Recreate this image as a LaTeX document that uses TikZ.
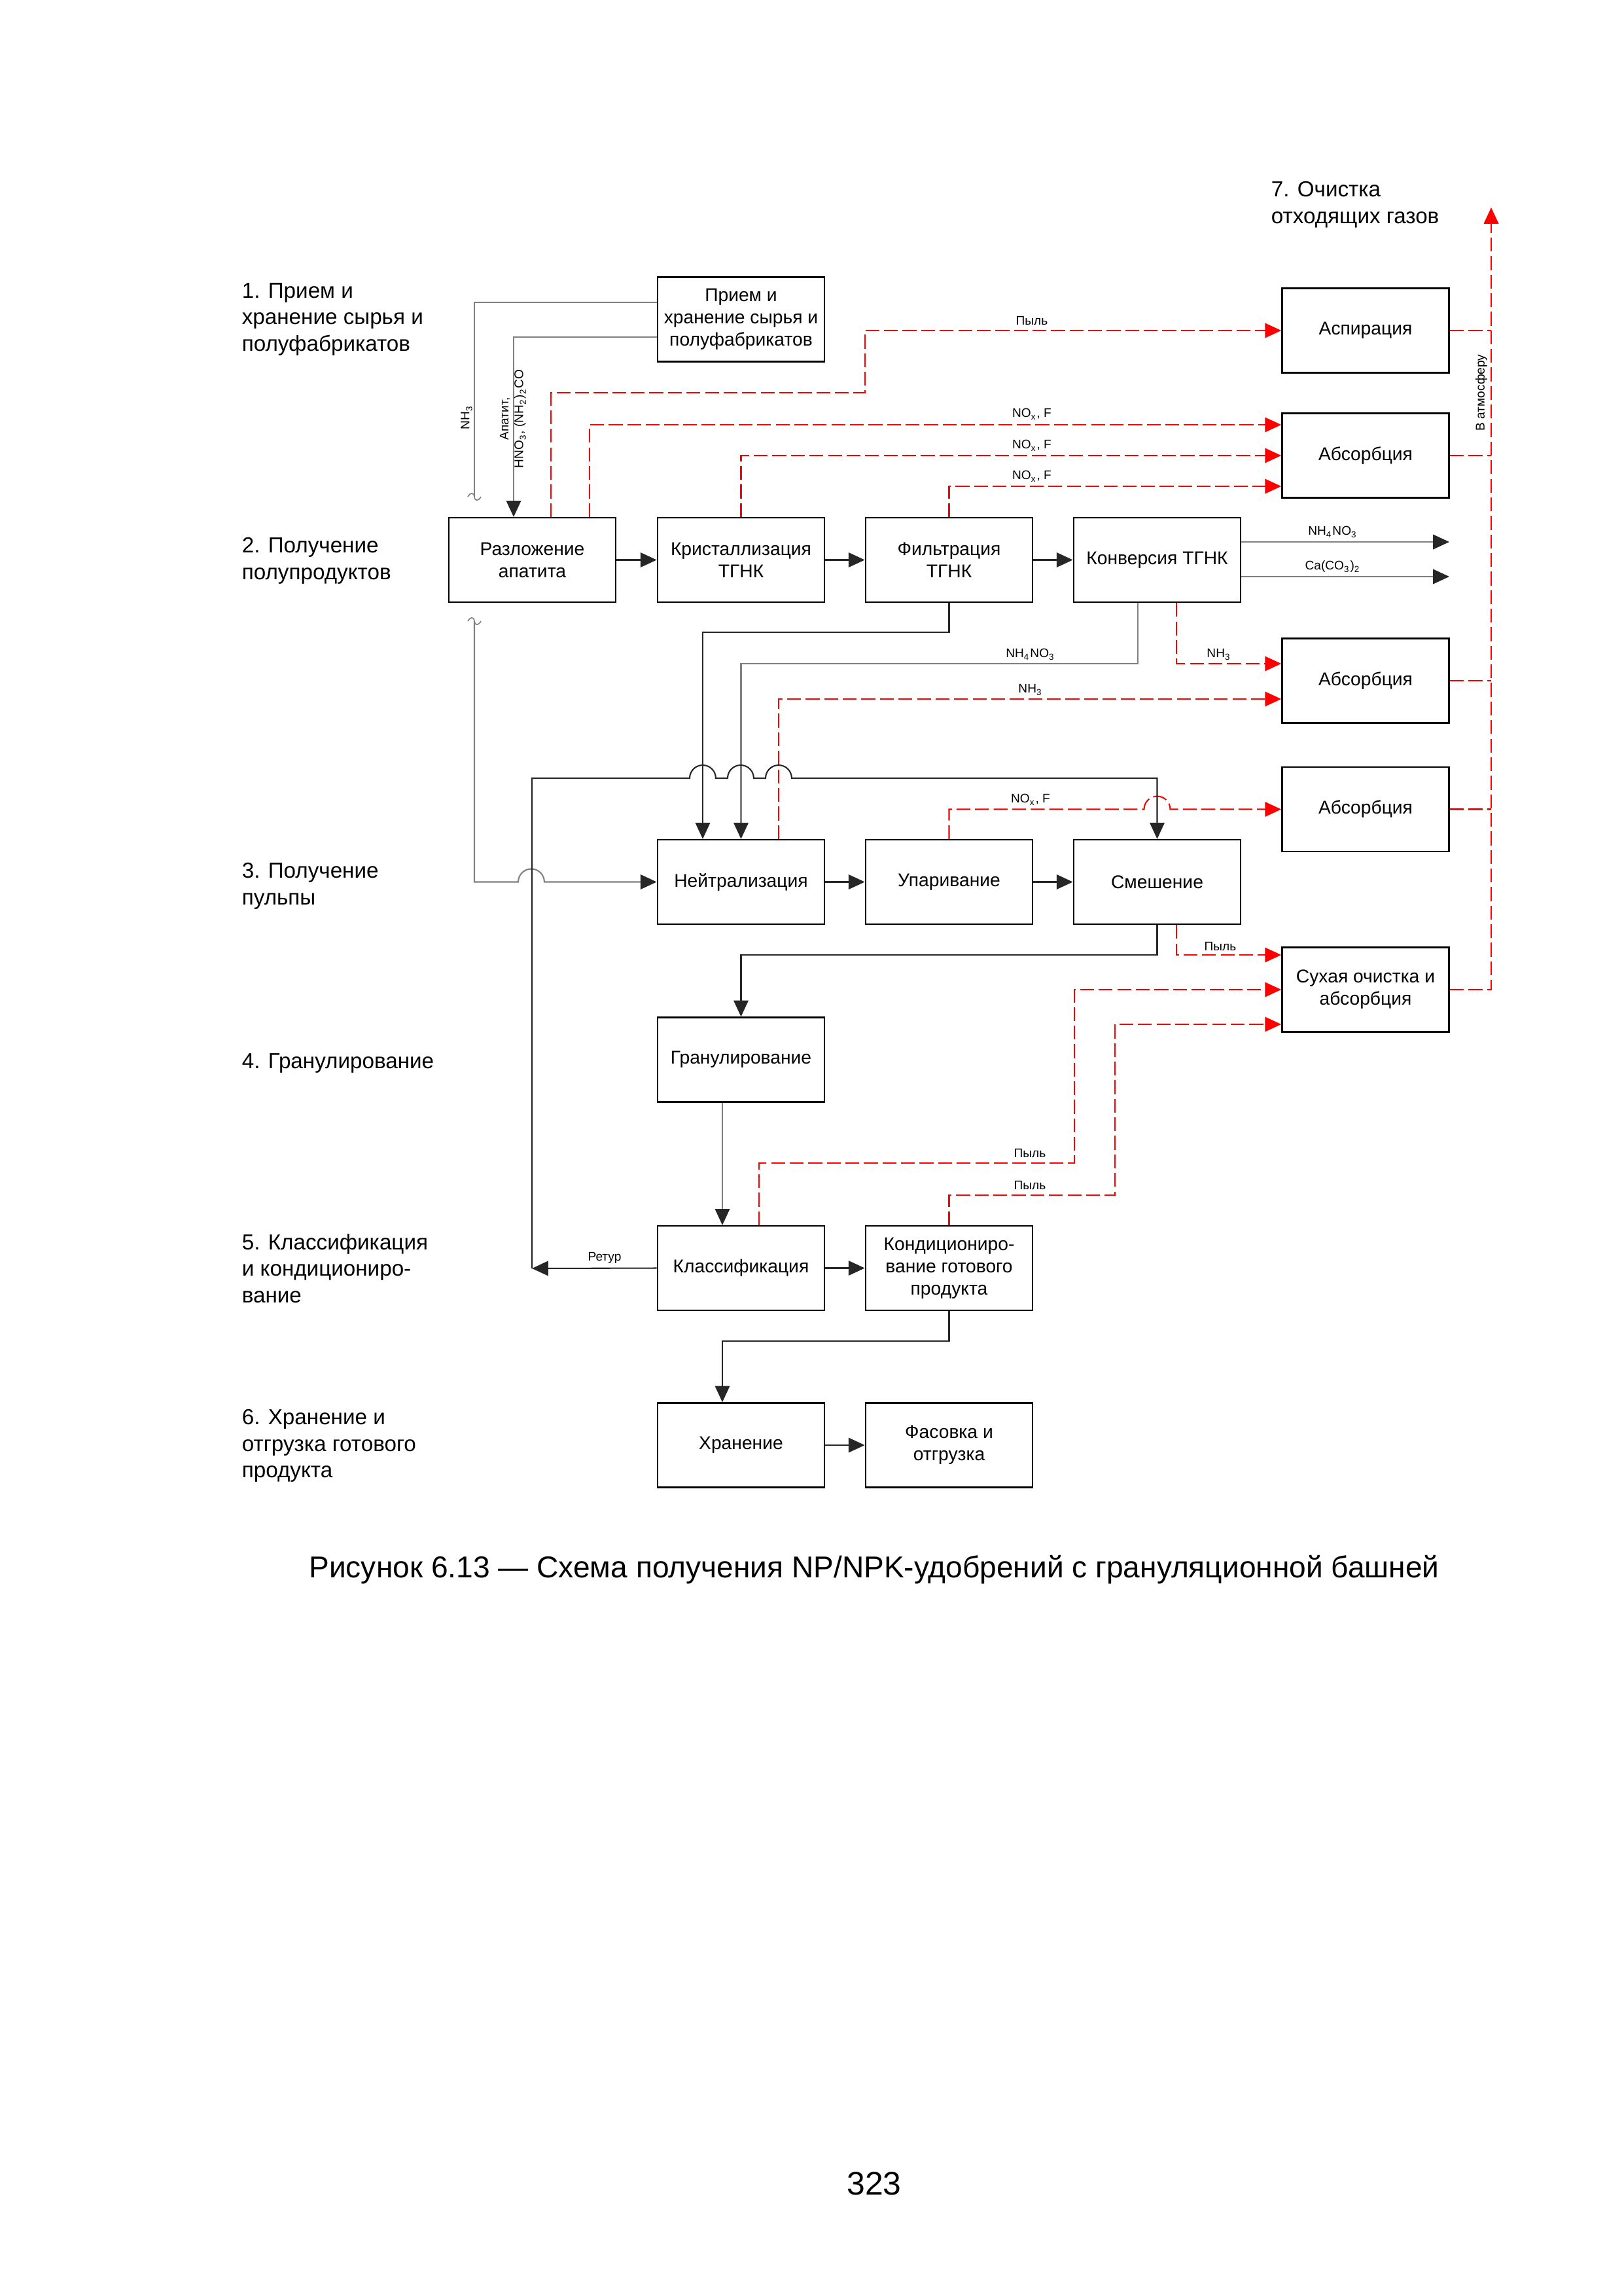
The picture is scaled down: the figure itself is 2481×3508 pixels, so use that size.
\documentclass[tikz,border=0pt]{standalone}
\usepackage{fontspec}
\setmainfont{Liberation Sans}
\usetikzlibrary{arrows.meta}

\newcommand{\boxfont}{\fontsize{6.8}{8.2}\selectfont}
\newcommand{\stagefont}{\fontsize{8}{9.8}\selectfont}
\newcommand{\tagfont}{\fontsize{4.6}{5.4}\selectfont}

\tikzset{
  box/.style={draw, line width=0.6pt, minimum width=21.6mm, minimum height=10.9mm,
    align=center, inner sep=1pt, font=\boxfont},
  stage/.style={anchor=west, align=left, inner sep=0pt, font=\stagefont},
  tag/.style={inner sep=0.5pt, font=\tagfont},
  flow/.style={line width=0.5pt, black!85, -{Triangle[length=2.1mm, width=1.9mm, color=black!85]}},
  feed/.style={flow, black!50},
  gas/.style={line width=0.5pt, red, dash pattern=on 1.8mm off 0.6mm, -{Triangle[length=2.1mm, width=1.9mm]}},
  gasline/.style={gas, -},
}

\begin{document}
\begin{tikzpicture}[x=0.08464mm, y=-0.08464mm]
    \useasboundingbox (0,0) rectangle (2481,3508);

    % Stage titles
    \node[stage] (st1) at (369,488) {1. Прием и\\хранение сырья и\\полуфабрикатов};
    \node[stage] (st2) at (369,857) {2. Получение\\полупродуктов};
    \node[stage] (st3) at (369,1354) {3. Получение\\пульпы};
    \node[stage] (st4) at (369,1624) {4. Гранулирование};
    \node[stage] (st5) at (369,1938) {5. Классификация\\и кондициониро-\\вание};
    \node[stage] (st6) at (369,2209) {6. Хранение и\\отгрузка готового\\продукта};
    \node[stage] (st7) at (1942,313) {7. Очистка\\отходящих газов};

    % Process boxes
    \node[box] (priem) at (1132.5,488) {Прием и\\хранение сырья и\\полуфабрикатов};
    \node[box] (raz) at (813.5,855.5) {Разложение\\апатита};
    \node[box] (kryst) at (1132.5,855.5) {Кристаллизация\\ТГНК};
    \node[box] (filtr) at (1450.5,855.5) {Фильтрация\\ТГНК};
    \node[box] (konv) at (1768.5,855.5) {Конверсия ТГНК};
    \node[box] (neitr) at (1132.5,1347.5) {Нейтрализация};
    \node[box] (upar) at (1450.5,1347.5) {Упаривание};
    \node[box] (smesh) at (1768.5,1347.5) {Смешение};
    \node[box] (gran) at (1132.5,1619) {Гранулирование};
    \node[box] (klass) at (1132.5,1937.5) {Классификация};
    \node[box] (kond) at (1450.5,1937.5) {Кондициониро-\\вание готового\\продукта};
    \node[box] (hran) at (1132.5,2208) {Хранение};
    \node[box] (fas) at (1450.5,2208) {Фасовка и\\отгрузка};

    % Gas cleaning boxes
    \node[box] (asp) at (2087,505) {Аспирация};
    \node[box] (abs1) at (2087,696) {Абсорбция};
    \node[box] (abs2) at (2087,1040) {Абсорбция};
    \node[box] (abs3) at (2087,1236.5) {Абсорбция};
    \node[box] (suh) at (2087,1512) {Сухая очистка и\\абсорбция};

    % Free ends
    \coordinate (brk1) at (725,759);
    \coordinate (brk2) at (725,949);
    \coordinate (ret) at (813,1938);
    \coordinate (atm) at (2279,317);
    \coordinate (out1) at (2215,828);
    \coordinate (out2) at (2215,881);

    % Raw materials
    \draw[feed, -] (priem.west |- 0,462) -- (725,462) -- (brk1);
    \draw[feed] (priem.west |- 0,515) -- (785,515) -- (raz.north -| 785,0);
    \draw[black!50, line width=0.4pt] (715,759) .. controls (719,752) and (724,752) .. (725,759) .. controls (726,766) and (731,766) .. (735,759);
    \draw[black!50, line width=0.4pt] (715,949) .. controls (719,942) and (724,942) .. (725,949) .. controls (726,956) and (731,956) .. (735,949);
    \node[tag, rotate=90] (lnh3) at (713,638) {NH\textsubscript{3}};
    \node[tag, rotate=90, align=center] (lapat) at (784,640) {Апатит,\\HNO\textsubscript{3}, (NH\textsubscript{2})\textsubscript{2}CO};

    % Semi-products
    \draw[flow] (raz) -- (kryst);
    \draw[flow] (kryst) -- (filtr);
    \draw[flow] (filtr) -- (konv);
    \draw[feed] (konv.east |- out1) -- (out1);
    \draw[feed] (konv.east |- out2) -- (out2);
    \node[tag] at (2037,813) {NH\textsubscript{4}NO\textsubscript{3}};
    \node[tag] at (2037,866) {Ca(CO\textsubscript{3})\textsubscript{2}};

    % Waste gases of stage 2
    \draw[gas] (raz.north -| 842,0) -- (842,600) -- (1322,600) -- (1322,505) -- (asp.west);
    \node[tag] at (1577,490) {Пыль};
    \draw[gas] (raz.north -| 901,0) -- (901,649) -- (abs1.west |- 0,649);
    \node[tag] at (1577,633) {NO\textsubscript{x}, F};
    \draw[gas] (kryst.north) -- (kryst.north |- abs1.west) -- (abs1.west);
    \node[tag] at (1577,681) {NO\textsubscript{x}, F};
    \draw[gas] (filtr.north) -- (filtr.north |- 0,743) -- (abs1.west |- 0,743);
    \node[tag] at (1577,728) {NO\textsubscript{x}, F};

    % To atmosphere
    \draw[gasline] (asp.east) -- (asp.east -| atm);
    \draw[gasline] (abs1.east) -- (abs1.east -| atm);
    \draw[gasline] (abs2.east) -- (abs2.east -| atm);
    \draw[gasline] (abs3.east) -- (abs3.east -| atm);
    \draw[gas] (suh.east) -- (suh.east -| atm) -- (atm);
    \node[tag, rotate=90] (latm) at (2264,600) {В атмосферу};

    % Pulp
    \draw[flow] (filtr.south) -- (filtr.south |- 0,966) -- (1074,966) -- (neitr.north -| 1074,0);
    \draw[feed] (konv.south -| 1739,0) -- (1739,1014) -- (neitr.north |- 0,1014) -- (neitr.north);
    \node[tag] at (1575,1000) {NH\textsubscript{4}NO\textsubscript{3}};
    \draw[gas] (konv.south -| 1798,0) -- (1798,1014) -- (abs2.west |- 0,1014);
    \node[tag] at (1863,1000) {NH\textsubscript{3}};
    \draw[gas] (neitr.north -| 1190,0) -- (1190,1068) -- (abs2.west |- 0,1068);
    \node[tag] at (1575,1054) {NH\textsubscript{3}};
    \draw[feed] (brk2) -- (brk2 |- neitr.west) -- (792,1347.5) arc[start angle=180, end angle=0, radius=1.69mm] -- (neitr.west);
    \draw[flow] (neitr) -- (upar);
    \draw[flow] (upar) -- (smesh);
    \draw[gas] (upar.north) -- (upar.north |- abs3.west) -- (1748.5,1236.5) arc[start angle=180, end angle=0, radius=1.69mm] -- (abs3.west);
    \node[tag] at (1575,1222) {NO\textsubscript{x}, F};

    % Recycle with line hops
    \draw[flow] (ret) -- (ret |- 0,1189) -- (1054,1189)
        arc[start angle=180, end angle=0, radius=1.69mm] -- (1112,1189)
        arc[start angle=180, end angle=0, radius=1.69mm] -- (1170,1189)
        arc[start angle=180, end angle=0, radius=1.69mm] -- (smesh.north |- 0,1189) -- (smesh.north);

    % Granulation
    \draw[flow] (smesh.south) -- (smesh.south |- 0,1459) -- (gran.north |- 0,1459) -- (gran.north);
    \draw[gas] (smesh.south -| 1798,0) -- (1798,1459) -- (suh.west |- 0,1459);
    \node[tag] at (1865,1446) {Пыль};
    \draw[feed] (gran.south -| 1104,0) -- (klass.north -| 1104,0);

    % Classification
    \draw[flow] (klass.west) -- (ret);
    \node[tag] at (924,1922) {Ретур};
    \draw[flow] (klass) -- (kond);
    \draw[gas] (klass.north -| 1160,0) -- (1160,1777) -- (1642,1777) -- (1642,1512) -- (suh.west);
    \node[tag] at (1574,1762) {Пыль};
    \draw[gas] (kond.north) -- (kond.north |- 0,1826) -- (1704,1826) -- (1704,1565) -- (suh.west |- 0,1565);
    \node[tag] at (1574,1811) {Пыль};

    % Storage
    \draw[flow] (kond.south) -- (kond.south |- 0,2049) -- (1104,2049) -- (hran.north -| 1104,0);
    \draw[flow] (hran) -- (fas);

    % Caption and page number
    \node[font=\fontsize{11.1}{13}\selectfont] (cap) at (1336,2398) {Рисунок 6.13 — Схема получения NP/NPK-удобрений с грануляционной башней};
    \node[font=\fontsize{12}{14}\selectfont] (pg) at (1336,3336) {323};
\end{tikzpicture}
\end{document}
